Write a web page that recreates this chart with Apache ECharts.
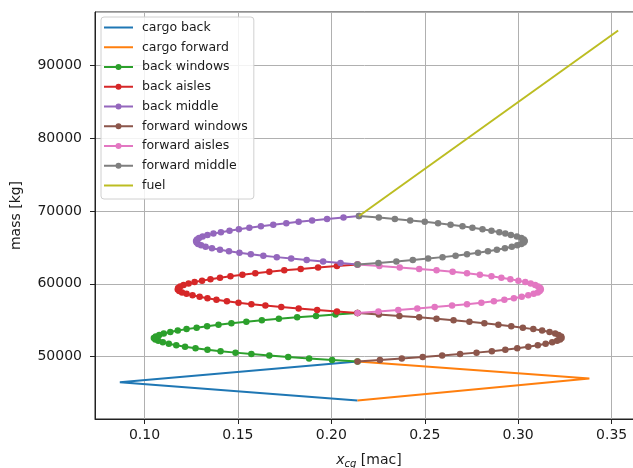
<!DOCTYPE html>
<html>
<head>
<meta charset="utf-8">
<script src="https://cdn.jsdelivr.net/npm/echarts@6/dist/echarts.min.js"></script>
<style>
html,body{margin:0;padding:0;background:#fff;overflow:hidden;}
#chart{width:633px;height:468px;}
</style>
</head>
<body>
<div id="chart"></div>
<script>
const seriesNames = ['cargo back','cargo forward','back windows','back aisles','back middle','forward windows','forward aisles','forward middle','fuel'];
const colors = ['#1f77b4','#ff7f0e','#2ca02c','#d62728','#9467bd','#8c564b','#e377c2','#7f7f7f','#bcbd22'];

const cargoBackX = [0.2140, 0.0868, 0.2140];
const cargoBackY = [43950, 46450, 49320];
const cargoForwardX = [0.2140, 0.3381, 0.2140];
const cargoForwardY = [43950, 46990, 49320];

const windowsMass = [49320,49522,49724,49926,50128,50330,50532,50734,50936,51138,51340,51542,51744,51946,52148,52350,52552,52754,52956,53158,53360,53562,53764,53966,54168,54370,54572,54774,54976,55178,55380,55582,55784,55986];
const aislesMass = [55986,56188,56390,56592,56794,56996,57198,57400,57602,57804,58006,58208,58410,58612,58814,59016,59218,59420,59622,59824,60026,60228,60430,60632,60834,61036,61238,61440,61642,61844,62046,62248,62450,62652];
const middleMass = [62652,62854,63056,63258,63460,63662,63864,64066,64268,64470,64672,64874,65076,65278,65480,65682,65884,66086,66288,66490,66692,66894,67096,67298,67500,67702,67904,68106,68308,68510,68712,68914,69116,69318];

const backWindowsX = [0.2140,0.2004,0.1881,0.1769,0.1668,0.1572,0.1487,0.1407,0.1337,0.1273,0.1217,0.1170,0.1130,0.1098,0.1074,0.1058,0.1050,0.1060,0.1079,0.1103,0.1138,0.1178,0.1225,0.1279,0.1335,0.1396,0.1465,0.1545,0.1628,0.1719,0.1817,0.1918,0.2022,0.2140];
const forwardWindowsX = [0.2140,0.2260,0.2377,0.2489,0.2593,0.2689,0.2777,0.2859,0.2931,0.2995,0.3054,0.3105,0.3147,0.3182,0.3208,0.3224,0.3232,0.3230,0.3216,0.3198,0.3168,0.3128,0.3081,0.3025,0.2963,0.2894,0.2819,0.2739,0.2654,0.2563,0.2470,0.2364,0.2254,0.2140];
const backAislesX = [0.2140,0.2030,0.1924,0.1825,0.1732,0.1647,0.1572,0.1503,0.1441,0.1385,0.1337,0.1295,0.1257,0.1225,0.1201,0.1186,0.1178,0.1180,0.1191,0.1209,0.1236,0.1268,0.1308,0.1353,0.1404,0.1460,0.1524,0.1593,0.1668,0.1748,0.1836,0.1929,0.2030,0.2140];
const forwardAislesX = [0.2140,0.2252,0.2358,0.2460,0.2553,0.2646,0.2726,0.2803,0.2870,0.2926,0.2977,0.3019,0.3054,0.3083,0.3105,0.3115,0.3121,0.3118,0.3107,0.3091,0.3067,0.3038,0.3001,0.2958,0.2910,0.2857,0.2795,0.2726,0.2649,0.2563,0.2470,0.2366,0.2257,0.2140];
const backMiddleX = [0.2140,0.2049,0.1956,0.1868,0.1785,0.1708,0.1636,0.1569,0.1508,0.1452,0.1404,0.1361,0.1327,0.1303,0.1287,0.1279,0.1276,0.1281,0.1292,0.1311,0.1337,0.1369,0.1409,0.1455,0.1505,0.1561,0.1623,0.1689,0.1759,0.1825,0.1897,0.1977,0.2065,0.2148];
const forwardMiddleX = [0.2140,0.2252,0.2348,0.2436,0.2518,0.2595,0.2665,0.2726,0.2785,0.2838,0.2886,0.2929,0.2966,0.2995,0.3017,0.3030,0.3035,0.3030,0.3017,0.2993,0.2961,0.2931,0.2899,0.2857,0.2809,0.2755,0.2702,0.2638,0.2571,0.2500,0.2422,0.2340,0.2254,0.2148];

const fuelX = [0.2148, 0.3535];
const fuelY = [69318, 94820];

const xLimits = [0.0735, 0.3668];
const yLimits = [41407, 97363];

function pairs(xs, ys){ return xs.map((x,i)=>[x, ys[i]]); }

const seriesData = [
  [cargoBackX, cargoBackY, false],
  [cargoForwardX, cargoForwardY, false],
  [backWindowsX, windowsMass, true],
  [backAislesX, aislesMass, true],
  [backMiddleX, middleMass, true],
  [forwardWindowsX, windowsMass, true],
  [forwardAislesX, aislesMass, true],
  [forwardMiddleX, middleMass, true],
  [fuelX, fuelY, false]
];

const lineIcon = 'path://M0,0H29V2H0Z';
const dotLineIcon = 'path://M0,6H12V8H0Z M17,6H29V8H17Z M11.5,7A3,3 0 1,1 17.5,7A3,3 0 1,1 11.5,7Z';

const font = 'DejaVu Sans';
const chart = echarts.init(document.getElementById('chart'), null, {renderer:'canvas'});
chart.setOption({
  animation: false,
  backgroundColor: '#ffffff',
  color: colors,
  grid: {left: 95, top: 12, bottom: 49, width: 548, outerBoundsMode: 'none', containLabel: false,
         show: true, borderColor: '#222', borderWidth: 1, backgroundColor: 'transparent'},
  legend: {
    data: seriesNames.map((n, i) => ({name: n, icon: seriesData[i][2] ? dotLineIcon : lineIcon})),
    orient: 'vertical',
    left: 101, top: 17,
    itemWidth: 29, itemHeight: 14, itemGap: 6.75,
    padding: [4, 6, 7, 3],
    backgroundColor: 'rgba(255,255,255,0.85)',
    borderColor: '#d0d0d0', borderWidth: 1, borderRadius: 3,
    textStyle: {fontFamily: font, fontSize: 12.5, color: '#1a1a1a', padding: [0,0,0,4]}
  },
  xAxis: {
    type: 'value', min: xLimits[0], max: xLimits[1], splitNumber: 6,
    name: '{i|x}{s|cg} [mac]', nameLocation: 'middle', nameGap: 32,
    nameTextStyle: {fontFamily: font, fontSize: 14, color: '#1a1a1a',
      rich: {i: {fontFamily: font, fontSize: 14, fontStyle: 'italic', color:'#1a1a1a'},
             s: {fontFamily: font, fontSize: 10, fontStyle: 'italic', color:'#1a1a1a', padding: [8,0,0,0]}}},
    axisLine: {show: true, onZero: false, lineStyle: {color: '#222', width: 1}},
    axisTick: {show: true, length: 5, lineStyle: {color: '#222'}},
    axisLabel: {showMinLabel: false, showMaxLabel: false, margin: 9, fontFamily: font, fontSize: 14, color: '#1a1a1a', formatter: v => v.toFixed(2)},
    splitLine: {show: true, lineStyle: {color: '#b0b0b0', width: 1}}
  },
  yAxis: {
    type: 'value', min: yLimits[0], max: yLimits[1], splitNumber: 5,
    name: 'mass [kg]', nameLocation: 'middle', nameGap: 72, nameRotate: 90,
    nameTextStyle: {fontFamily: font, fontSize: 14, color: '#1a1a1a'},
    axisLine: {show: true, onZero: false, lineStyle: {color: '#222', width: 1}},
    axisTick: {show: true, length: 5, lineStyle: {color: '#222'}},
    axisLabel: {showMinLabel: false, showMaxLabel: false, margin: 13, fontFamily: font, fontSize: 14, color: '#1a1a1a', formatter: v => String(v)},
    splitLine: {show: true, lineStyle: {color: '#b0b0b0', width: 1}}
  },
  series: seriesData.map((d, i) => ({
    name: seriesNames[i],
    type: 'line',
    data: pairs(d[0], d[1]),
    showSymbol: d[2],
    symbol: d[2] ? 'circle' : 'none',
    symbolSize: 6.5,
    lineStyle: {width: 2, color: colors[i]},
    itemStyle: {color: colors[i]},
    clip: true,
    z: 2 + i * 0.01
  }))
});
</script>
</body>
</html>
